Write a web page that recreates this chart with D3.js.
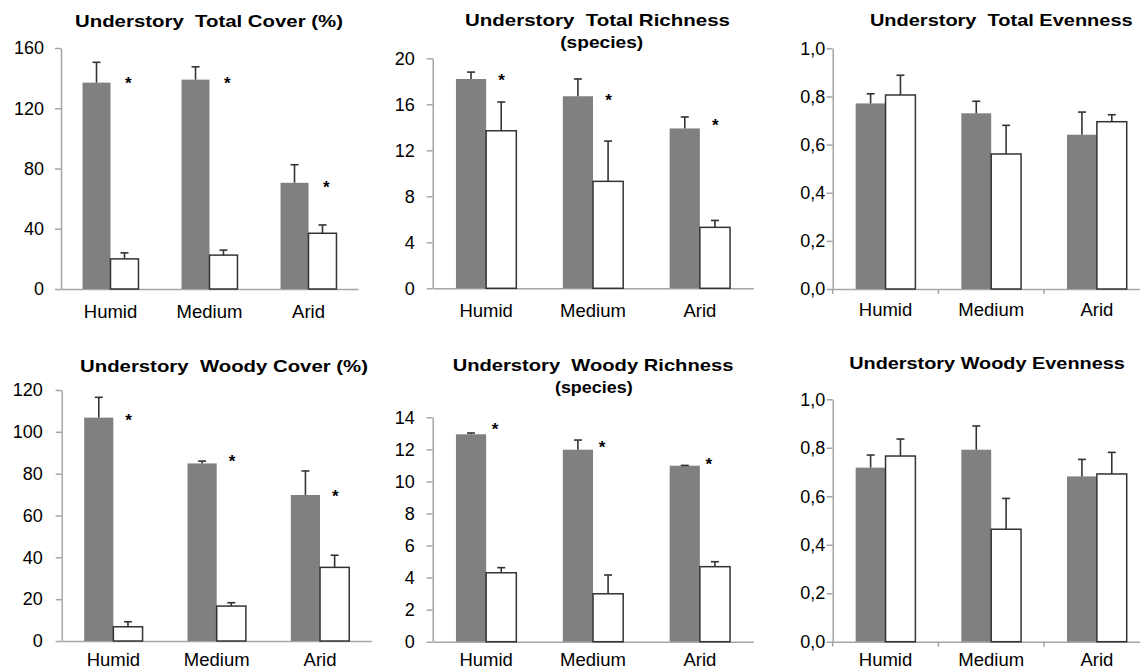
<!DOCTYPE html>
<html>
<head>
<meta charset="utf-8">
<script src="https://cdn.jsdelivr.net/npm/d3@7"></script>
<style>
body { margin: 0; background: #fff; }
svg { display: block; font-family: "Liberation Sans", Arial, sans-serif; }
</style>
</head>
<body>
<svg id="chart" width="1140" height="671"></svg>
<script>
var categories = ["Humid", "Medium", "Arid"];

// total cover (%)
var totalCoverGray = [137, 139, 70.5];
var totalCoverGraySe = [13.5, 8.5, 12];
var totalCoverWhite = [20, 22.5, 37];
var totalCoverWhiteSe = [4, 3.3, 5.5];
var totalCoverStars = [139, 139, 70.4];

// total richness (species)
var totalRichGray = [18.2, 16.7, 13.9];
var totalRichGraySe = [0.6, 1.5, 1.0];
var totalRichWhite = [13.7, 9.3, 5.3];
var totalRichWhiteSe = [2.5, 3.5, 0.6];
var totalRichStars = [18.4, 16.7, 14.5];

// total evenness
var totalEvenGray = [0.771, 0.730, 0.641];
var totalEvenGraySe = [0.040, 0.050, 0.094];
var totalEvenWhite = [0.806, 0.561, 0.695];
var totalEvenWhiteSe = [0.082, 0.119, 0.029];

// woody cover (%)
var woodyCoverGray = [106.8, 84.9, 69.8];
var woodyCoverGraySe = [9.7, 1.1, 11.5];
var woodyCoverWhite = [6.8, 16.7, 35.2];
var woodyCoverWhiteSe = [2.4, 1.6, 5.8];
var woodyCoverStars = [107.5, 87.8, 71];

// woody richness (species)
var woodyRichGray = [12.94, 11.98, 10.98];
var woodyRichGraySe = [0.08, 0.6, 0.02];
var woodyRichWhite = [4.30, 2.99, 4.68];
var woodyRichWhiteSe = [0.32, 1.17, 0.31];
var woodyRichStars = [13.5, 12.4, 11.3];

// woody evenness
var woodyEvenGray = [0.718, 0.792, 0.682];
var woodyEvenGraySe = [0.052, 0.098, 0.070];
var woodyEvenWhite = [0.766, 0.464, 0.692];
var woodyEvenWhiteSe = [0.070, 0.127, 0.089];

var intFmt = d3.format("d");
var commaFmt = function(d) { return d3.format(".1f")(d).replace(".", ","); };

var panels = [
    { titles: [{ t: "Understory  Total Cover (%)", cx: 209, y: 27, w: 268 }],
      left: 61, right: 358, top: 48, bottom: 289, max: 160, step: 40, fmt: intFmt, tickPad: 11, labelDy: 29,
      gray: totalCoverGray, graySe: totalCoverGraySe, white: totalCoverWhite, whiteSe: totalCoverWhiteSe,
      stars: totalCoverStars, starShift: 0.18, xTicks: false },
    { titles: [{ t: "Understory  Total Richness", cx: 597.5, y: 26, w: 265 },
               { t: "(species)", cx: 601.7, y: 48.3, w: 83 }],
      left: 432.7, right: 753.3, top: 58.3, bottom: 288.3, max: 20, step: 4, fmt: intFmt, tickPad: 12, labelDy: 28.4,
      gray: totalRichGray, graySe: totalRichGraySe, white: totalRichWhite, whiteSe: totalRichWhiteSe,
      stars: totalRichStars, starShift: 0.145, xTicks: false },
    { titles: [{ t: "Understory  Total Evenness", cx: 1001.3, y: 26, w: 262.7 }],
      left: 832.7, right: 1149.7, top: 48.3, bottom: 289, max: 1, step: 0.2, fmt: commaFmt, tickPad: 1.5, labelDy: 27,
      gray: totalEvenGray, graySe: totalEvenGraySe, white: totalEvenWhite, whiteSe: totalEvenWhiteSe,
      stars: null, starShift: 0, xTicks: true },
    { titles: [{ t: "Understory  Woody Cover (%)", cx: 224, y: 371.7, w: 288 }],
      left: 61.7, right: 371.7, top: 390, bottom: 641, max: 120, step: 20, fmt: intFmt, tickPad: 13, labelDy: 25,
      gray: woodyCoverGray, graySe: woodyCoverGraySe, white: woodyCoverWhite, whiteSe: woodyCoverWhiteSe,
      stars: woodyCoverStars, starShift: 0.148, xTicks: false },
    { titles: [{ t: "Understory  Woody Richness", cx: 593, y: 371, w: 280.7 },
               { t: "(species)", cx: 593.8, y: 393.3, w: 77.7 }],
      left: 432.7, right: 753.3, top: 417.3, bottom: 641.7, max: 14, step: 2, fmt: intFmt, tickPad: 12, labelDy: 24.5,
      gray: woodyRichGray, graySe: woodyRichGraySe, white: woodyRichWhite, whiteSe: woodyRichWhiteSe,
      stars: woodyRichStars, starShift: 0.084, xTicks: false },
    { titles: [{ t: "Understory Woody Evenness", cx: 987, y: 369.3, w: 275.7 }],
      left: 832.7, right: 1149.7, top: 399.3, bottom: 641.7, max: 1, step: 0.2, fmt: commaFmt, tickPad: 1.5, labelDy: 24.5,
      gray: woodyEvenGray, graySe: woodyEvenGraySe, white: woodyEvenWhite, whiteSe: woodyEvenWhiteSe,
      stars: null, starShift: 0, xTicks: true }
];

var axisColor = "#a6a6a6";
var darkColor = "#333333";
var grayFill = "#808080";
var tickFont = 18;
var catFont = 18.5;

var svg = d3.select("#chart");

panels.forEach(function(p)
{
    var g = svg.append("g");

    var x = d3.scaleBand()
        .domain(categories)
        .range([p.left, p.right])
        .paddingInner(0.435)
        .paddingOuter(0.2175);

    var xs = d3.scaleBand()
        .domain(["gray", "white"])
        .range([0, x.bandwidth()]);

    var y = d3.scaleLinear()
        .domain([0, p.max])
        .range([p.bottom, p.top]);

    // y axis
    var yAxis = d3.axisLeft(y)
        .tickValues(d3.range(0, p.max + p.step / 2, p.step))
        .tickSize(6)
        .tickSizeOuter(0)
        .tickPadding(p.tickPad)
        .tickFormat(p.fmt);

    var ya = g.append("g")
        .attr("transform", "translate(" + p.left + ",0)")
        .call(yAxis);
    ya.select(".domain").attr("stroke", axisColor).attr("stroke-width", 1.5);
    ya.selectAll(".tick line").attr("stroke", axisColor).attr("stroke-width", 1.5);
    ya.selectAll(".tick text")
        .attr("fill", "#000")
        .style("font-size", tickFont + "px")
        .style("font-family", "'Liberation Sans', Arial, sans-serif");

    // x axis with category labels
    var xAxis = d3.axisBottom(x)
        .tickSize(0)
        .tickSizeOuter(0)
        .tickPadding(p.labelDy - 0.71 * catFont);

    var xa = g.append("g")
        .attr("transform", "translate(0," + p.bottom + ")")
        .call(xAxis);
    xa.select(".domain").attr("stroke", axisColor).attr("stroke-width", 1.5);
    xa.selectAll(".tick text")
        .attr("fill", "#000")
        .style("font-size", catFont + "px")
        .style("font-family", "'Liberation Sans', Arial, sans-serif");

    if (p.xTicks)
    {
        var bx = d3.scaleLinear().domain([0, categories.length]).range([p.left, p.right]);
        g.selectAll(".bound")
            .data(d3.range(0, categories.length + 1))
            .enter().append("line")
            .attr("class", "bound")
            .attr("x1", function(d) { return bx(d); })
            .attr("x2", function(d) { return bx(d); })
            .attr("y1", p.bottom)
            .attr("y2", p.bottom + 5)
            .attr("stroke", axisColor)
            .attr("stroke-width", 1.5);
    }

    var rows = [];
    categories.forEach(function(c, i)
    {
        rows.push({ cat: c, key: "gray", v: p.gray[i], se: p.graySe[i] });
        rows.push({ cat: c, key: "white", v: p.white[i], se: p.whiteSe[i] });
    });

    // bars
    g.selectAll(".bar")
        .data(rows)
        .enter().append("rect")
        .attr("class", "bar")
        .attr("x", function(d) { return x(d.cat) + xs(d.key); })
        .attr("width", xs.bandwidth())
        .attr("y", function(d) { return y(d.v); })
        .attr("height", function(d) { return y(0) - y(d.v); })
        .attr("fill", function(d) { return d.key === "gray" ? grayFill : "#fff"; })
        .attr("stroke", function(d) { return d.key === "gray" ? "none" : darkColor; })
        .attr("stroke-width", 1.5);

    // error bars (upper only)
    var err = g.selectAll(".err")
        .data(rows)
        .enter().append("g")
        .attr("class", "err")
        .attr("transform", function(d)
        {
            return "translate(" + (x(d.cat) + xs(d.key) + xs.bandwidth() / 2) + ",0)";
        });

    err.append("line")
        .attr("x1", 0).attr("x2", 0)
        .attr("y1", function(d) { return y(d.v); })
        .attr("y2", function(d) { return y(d.v + d.se); })
        .attr("stroke", darkColor)
        .attr("stroke-width", 1.6);

    err.append("line")
        .attr("x1", -4).attr("x2", 4)
        .attr("y1", function(d) { return y(d.v + d.se); })
        .attr("y2", function(d) { return y(d.v + d.se); })
        .attr("stroke", darkColor)
        .attr("stroke-width", 1.6);

    // significance asterisks
    if (p.stars)
    {
        g.selectAll(".star")
            .data(p.stars)
            .enter().append("text")
            .attr("class", "star")
            .attr("x", function(d, i) { return x(categories[i]) + x.bandwidth() / 2 + p.starShift * x.step(); })
            .attr("y", function(d) { return y(d); })
            .attr("dy", "0.57em")
            .attr("text-anchor", "middle")
            .style("font-size", "17px")
            .style("font-weight", "bold")
            .text("*");
    }

    // titles
    p.titles.forEach(function(t)
    {
        g.append("text")
            .attr("x", t.cx - t.w / 2)
            .attr("y", t.y)
            .attr("textLength", t.w)
            .attr("lengthAdjust", "spacingAndGlyphs")
            .style("font-size", "16.5px")
            .style("font-weight", "bold")
            .style("white-space", "pre")
            .text(t.t);
    });
});
</script>
</body>
</html>
